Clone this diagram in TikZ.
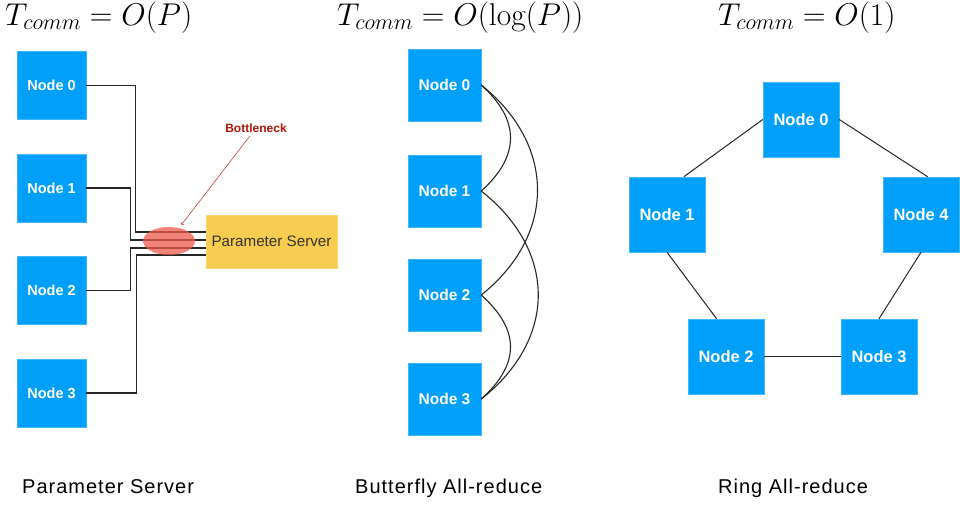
\RequirePackage{fix-cm}
\documentclass[tikz,border=0pt]{standalone}
\usepackage{fontspec}
\setsansfont{Liberation Sans}
\newfontfamily\captionfont[LetterSpace=5]{Liberation Sans}
\usetikzlibrary{calc,shapes.geometric}

\definecolor{nodeblue}{RGB}{0,160,250}
\definecolor{psyellow}{RGB}{247,205,80}
\definecolor{bneckred}{RGB}{238,90,75}
\definecolor{bnecktext}{RGB}{178,20,10}

\begin{document}
\begin{tikzpicture}[x=1pt, y=-1pt,
    nodebox/.style={fill=nodeblue, draw=nodeblue!75!white, line width=0.5pt,
      inner sep=0pt, text=white, font=\sffamily\bfseries},
    leftbox/.style={nodebox, minimum width=69pt, minimum height=68pt,
      font=\sffamily\bfseries\fontsize{14.5}{17}\selectfont},
    midbox/.style={nodebox, minimum width=73pt, minimum height=72pt,
      font=\sffamily\bfseries\fontsize{15.5}{18}\selectfont},
    ringbox/.style={nodebox, minimum width=76pt, minimum height=75pt,
      font=\sffamily\bfseries\fontsize{16.5}{19}\selectfont},
    link/.style={line width=1.3pt, black!85},
    title/.style={anchor=base west, inner sep=0pt, font=\fontsize{31.5}{36}\selectfont},
    caption/.style={anchor=base west, inner sep=0pt, font=\captionfont\fontsize{20}{24}\selectfont}]
    \useasboundingbox (0,0) rectangle (960,512);

    % Titles
    \node[title] (t1) at (5,25) {$T_{comm} = O(P)$};
    \node[title] (t2) at (337,25) {$T_{comm} = O(\log(P))$};
    \node[title] (t3) at (718,25) {$T_{comm} = O(1)$};

    % Parameter server
    \node[leftbox] (p0) at (51.5,85.5) {Node 0};
    \node[leftbox] (p1) at (51.5,188) {Node 1};
    \node[leftbox] (p2) at (51.5,290.5) {Node 2};
    \node[leftbox] (p3) at (51.5,393) {Node 3};
    \node[fill=psyellow, draw=psyellow!80!white, minimum width=131pt, minimum height=53pt,
      inner sep=0pt, text=black!80, font=\sffamily\fontsize{15.2}{18}\selectfont]
      (ps) at (271.5,241.5) {Parameter Server};

    \draw[link] (p0.east) -- ++(49,0) |- ($(ps.west)+(0,-9.5)$);
    \draw[link] (p1.east) -- ++(44,0) |- ($(ps.west)+(0,-1.5)$);
    \draw[link] (p2.east) -- ++(44,0) |- ($(ps.west)+(0,6.5)$);
    \draw[link] (p3.east) -- ++(50,0) |- ($(ps.west)+(0,13.5)$);

    % Bottleneck
    \node[ellipse, fill=bneckred, fill opacity=0.75, minimum width=52pt, minimum height=28pt,
      inner sep=0pt] (bneck) at (169,241) {};
    \node[text=bnecktext, font=\sffamily\bfseries\fontsize{12}{14}\selectfont]
      (blabel) at (256,128) {Bottleneck};
    \draw[->, bnecktext!80, line width=0.6pt, shorten >=4pt] (blabel) -- (bneck);

    % Butterfly all-reduce
    \node[midbox] (b0) at (444.5,85) {Node 0};
    \node[midbox] (b1) at (444.5,191) {Node 1};
    \node[midbox] (b2) at (444.5,295) {Node 2};
    \node[midbox] (b3) at (444.5,399) {Node 3};

    \draw[link, line width=1.1pt] (b0.east) .. controls +(39,35) and +(39,-35) .. (b1.east);
    \draw[link, line width=1.1pt] (b0.east) .. controls +(75,60) and +(75,-60) .. (b2.east);
    \draw[link, line width=1.1pt] (b1.east) .. controls +(76,60) and +(76,-60) .. (b3.east);
    \draw[link, line width=1.1pt] (b2.east) .. controls +(39,35) and +(39,-35) .. (b3.east);

    % Ring all-reduce
    \node[ringbox] (r0) at (801,119.5) {Node 0};
    \node[ringbox] (r1) at (667,214.5) {Node 1};
    \node[ringbox] (r4) at (921,214.5) {Node 4};
    \node[ringbox] (r2) at (726,356.5) {Node 2};
    \node[ringbox] (r3) at (879,356.5) {Node 3};

    \draw[link, line width=1pt] (r0.west) -- (r1.66);
    \draw[link, line width=1pt] (r0.east) -- (r4.80);
    \draw[link, line width=1pt] (r1.south) -- (r2.104);
    \draw[link, line width=1pt] (r4.south) -- (r3.north);
    \draw[link, line width=1pt] (r2.east) -- (r3.west);

    % Captions
    \node[caption] (c1) at (22,493) {Parameter Server};
    \node[caption] (c2) at (355,493) {Butterfly All-reduce};
    \node[caption] (c3) at (718,493) {Ring All-reduce};
\end{tikzpicture}
\end{document}
